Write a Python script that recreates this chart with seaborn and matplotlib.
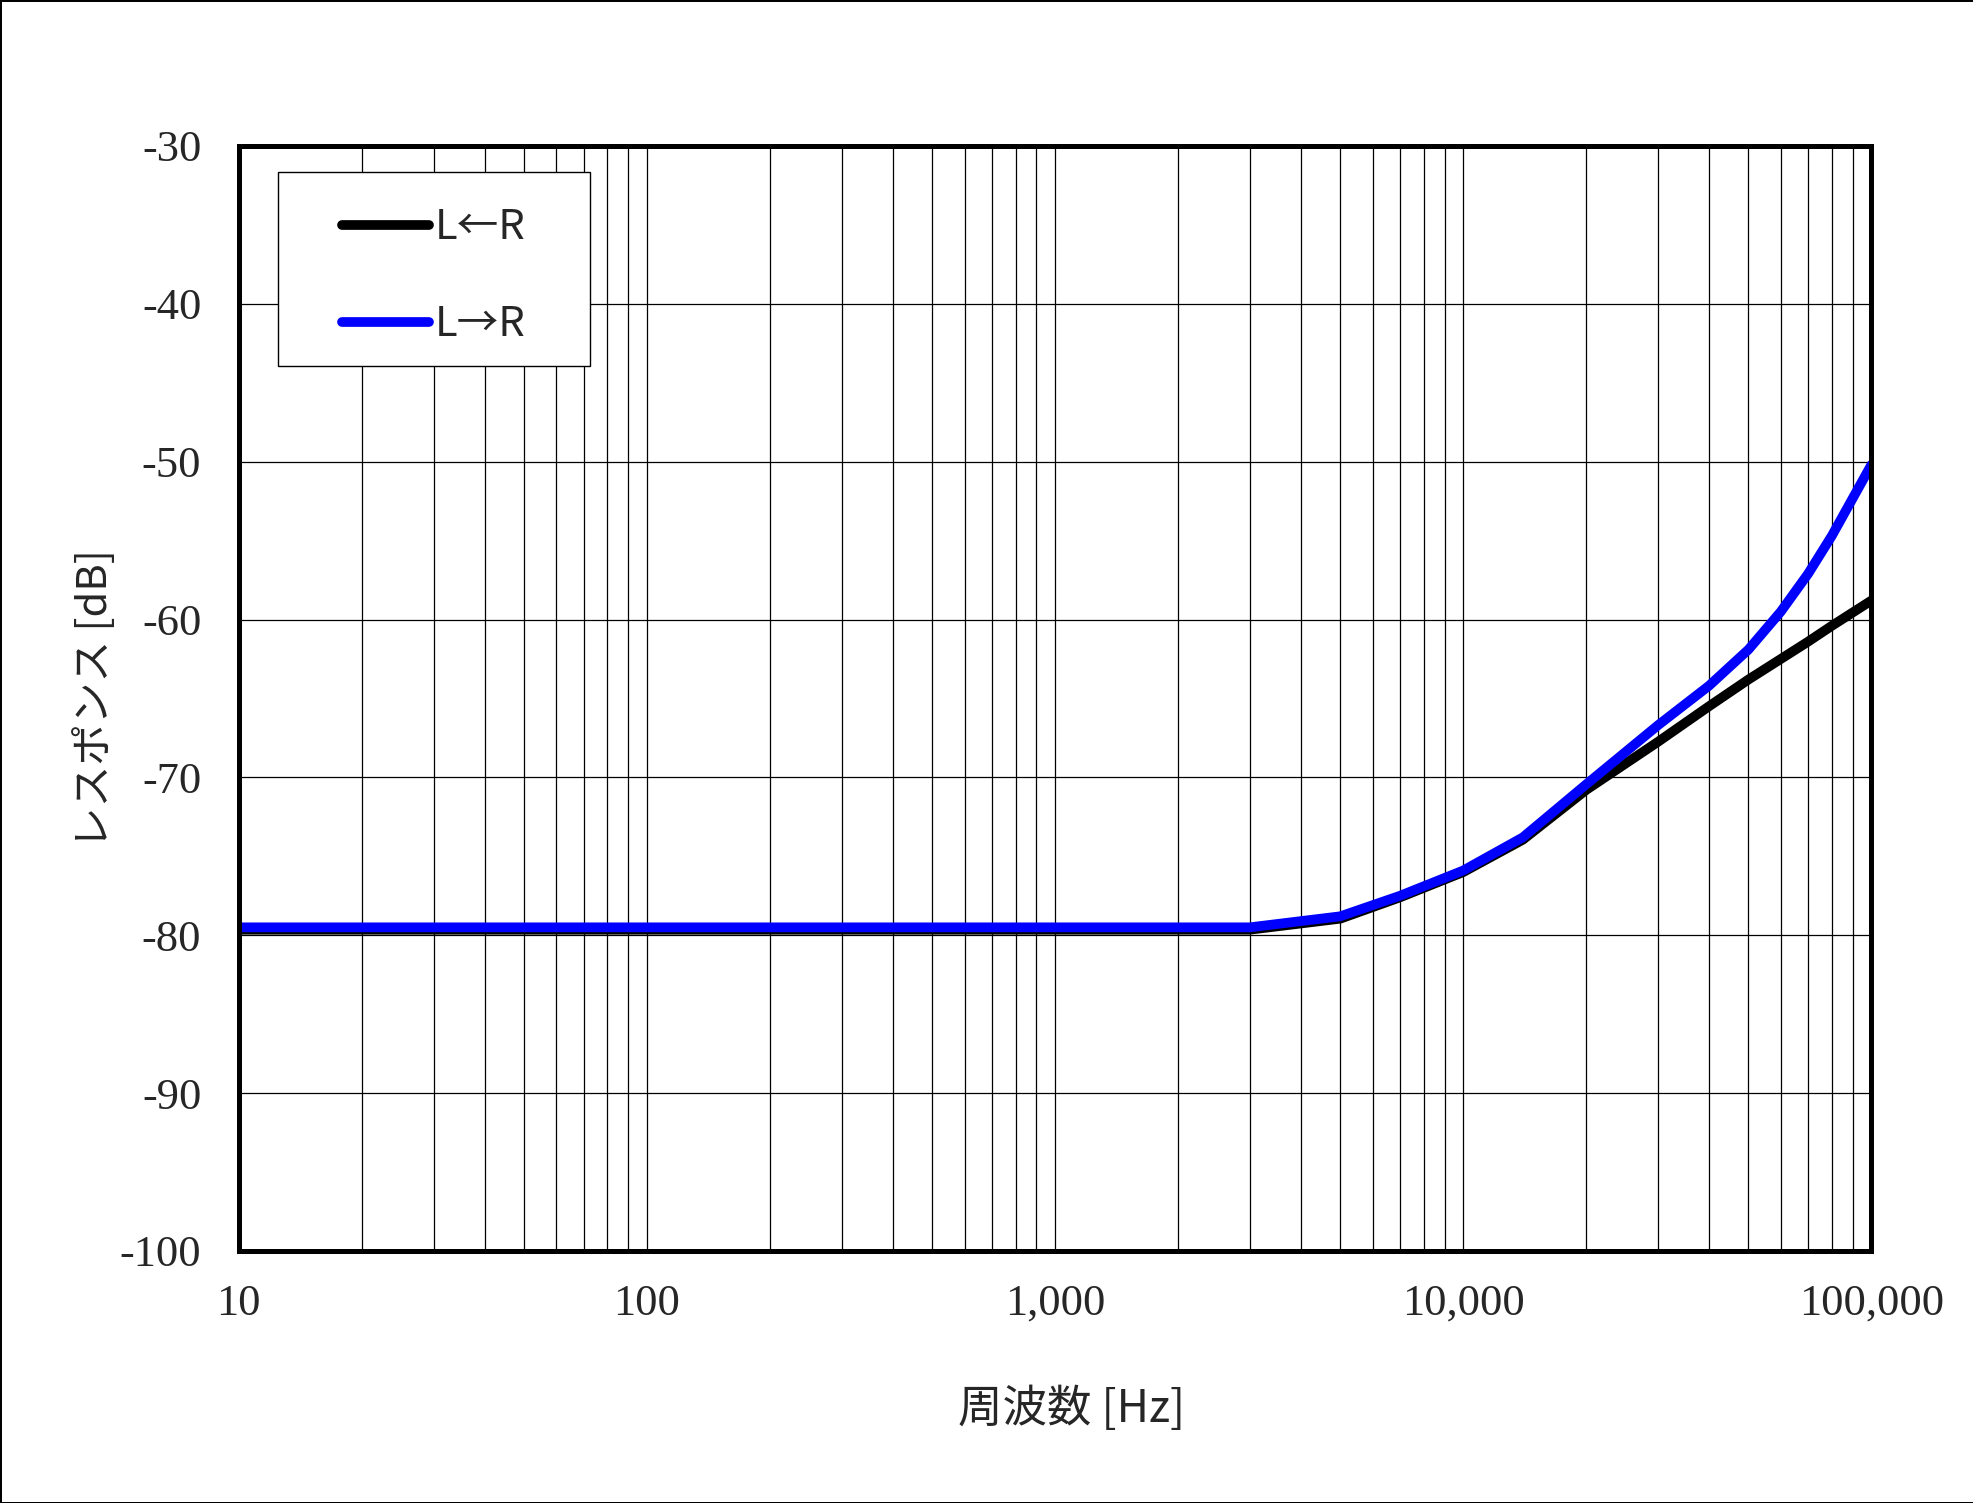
import matplotlib
matplotlib.use("Agg")
import matplotlib.pyplot as plt
from matplotlib.patches import Rectangle
from matplotlib.ticker import FixedLocator, LogLocator, NullFormatter
import pandas as pd
import seaborn as sns

# frequency points [Hz]
freq_hz = [10, 20, 50, 100, 200, 500, 1000, 2000, 3000, 5000, 7000, 10000,
           14000, 20000, 30000, 40000, 50000, 60000, 70000, 80000, 100000]

# response [dB]
resp_l_from_r = [-79.65, -79.65, -79.65, -79.65, -79.65, -79.65, -79.65, -79.65, -79.65,
                 -78.95, -77.6, -76.0, -73.95, -70.8, -67.75, -65.5, -63.8, -62.5,
                 -61.4, -60.4, -58.8]
resp_l_to_r = [-79.5, -79.5, -79.5, -79.5, -79.5, -79.5, -79.5, -79.5, -79.5,
               -78.8, -77.5, -75.9, -73.8, -70.45, -66.7, -64.2, -61.9, -59.5,
               -57.1, -54.7, -50.2]

series_labels = ["L\u2190R", "L\u2192R"]
series_colors = ["black", "#0000FF"]

x_ticks = [10, 100, 1000, 10000, 100000]
x_tick_labels = ["10", "100", "1,000", "10,000", "100,000"]
y_ticks = [-100, -90, -80, -70, -60, -50, -40, -30]

df = pd.DataFrame({
    "freq": freq_hz * 2,
    "resp": resp_l_from_r + resp_l_to_r,
    "series": [series_labels[0]] * len(freq_hz) + [series_labels[1]] * len(freq_hz),
})

sns.set_style("white")
plt.rcParams["font.family"] = ["Noto Sans CJK JP", "DejaVu Sans"]

fig = plt.figure(figsize=(19.74, 15.03), dpi=100, edgecolor="black", linewidth=2)
ax = fig.add_axes([0.121, 0.1677, 0.827, 0.7352])

# one call per series so each line keeps its own label
for lab, col in zip(series_labels, series_colors):
    sns.lineplot(data=df[df["series"] == lab], x="freq", y="resp", color=col,
                 linewidth=7, label=lab, ax=ax, solid_capstyle="round",
                 solid_joinstyle="round")

ax.set_xscale("log")
ax.set_xlim(10, 100000)
ax.set_ylim(-100, -30)

ax.xaxis.set_major_locator(FixedLocator(x_ticks))
ax.set_xticklabels(x_tick_labels)
ax.xaxis.set_minor_locator(LogLocator(base=10, subs=range(2, 10), numticks=50))
ax.xaxis.set_minor_formatter(NullFormatter())
ax.set_yticks(y_ticks)
ax.set_yticklabels([str(v) for v in y_ticks])

# grid
ax.set_axisbelow(True)
ax.grid(which="major", axis="both", color="black", linewidth=0.9)
ax.grid(which="minor", axis="x", color="black", linewidth=0.9)

for sp in ax.spines.values():
    sp.set_visible(True)
    sp.set_color("black")
    sp.set_linewidth(3.6)

ax.tick_params(axis="both", which="both", length=0)
ax.tick_params(axis="y", pad=27)
ax.tick_params(axis="x", pad=23.5)
for t in ax.get_xticklabels() + ax.get_yticklabels():
    t.set_fontfamily("Liberation Serif")
    t.set_fontsize(32)

# axis labels
ax.set_xlabel("周波数 [Hz]", fontsize=32)
ax.set_ylabel("レスポンス [dB]", fontsize=30)
ax.xaxis.set_label_coords(0.51, -0.122)
ax.yaxis.set_label_coords(-0.075, 0.5)

# legend: frame drawn separately (wider side padding than top/bottom)
ax.add_patch(Rectangle((0.0239, 0.8009), 0.1912, 0.1756, transform=ax.transAxes,
                       facecolor="white", edgecolor="black", linewidth=1.0, zorder=4))
leg = ax.legend(loc="center left", bbox_to_anchor=(0.0634, 0.882), borderaxespad=0,
                borderpad=0, fontsize=30, handlelength=2.08, handletextpad=0.14,
                labelspacing=1.35, frameon=False)
leg.set_zorder(5)

plt.savefig("out.png", dpi=100, edgecolor=fig.get_edgecolor())
